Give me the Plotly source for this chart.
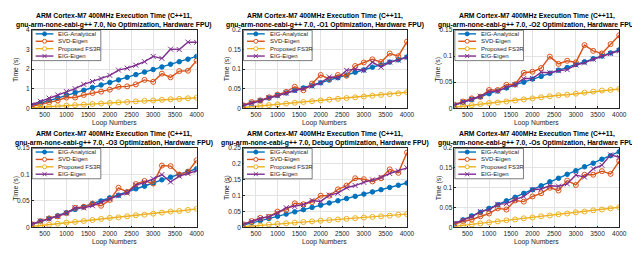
import plotly.graph_objects as go

W, H = 640, 254

loops = [200, 400, 600, 800, 1000, 1200, 1400, 1600, 1800, 2000,
         2200, 2400, 2600, 2800, 3000, 3200, 3400, 3600, 3800, 4000]
x_ticks = [500, 1000, 1500, 2000, 2500, 3000, 3500, 4000]
series_names = ["EIG-Analytical", "SVD-Eigen", "Proposed FS3R", "EIG-Eigen"]

# Panel 1: No Optimization
p1_eig_an = [0.13, 0.27, 0.40, 0.53, 0.66, 0.79, 0.92, 1.06, 1.19, 1.32,
             1.45, 1.58, 1.72, 1.85, 1.98, 2.11, 2.25, 2.38, 2.51, 2.65]
p1_svd = [0.10, 0.20, 0.30, 0.40, 0.55, 0.55, 0.68, 0.78, 0.85, 0.95,
          1.10, 1.12, 1.22, 1.45, 1.35, 1.77, 1.58, 1.90, 1.92, 2.43]
p1_fs3r = [0.03, 0.06, 0.08, 0.11, 0.14, 0.16, 0.19, 0.22, 0.24, 0.27,
           0.30, 0.32, 0.35, 0.38, 0.40, 0.43, 0.46, 0.48, 0.51, 0.54]
p1_eig_eigen = [0.18, 0.35, 0.52, 0.68, 0.85, 1.00, 1.22, 1.37, 1.52, 1.68,
                1.95, 2.05, 2.20, 2.38, 2.65, 2.55, 3.02, 3.00, 3.38, 3.37]

# Panel 2: -O1
p2_eig_an = [0.0065, 0.013, 0.020, 0.026, 0.033, 0.039, 0.046, 0.052, 0.058, 0.065,
             0.072, 0.078, 0.085, 0.092, 0.098, 0.105, 0.111, 0.118, 0.124, 0.131]
p2_svd = [0.008, 0.016, 0.020, 0.028, 0.035, 0.042, 0.055, 0.046, 0.063, 0.085,
          0.075, 0.085, 0.083, 0.108, 0.117, 0.125, 0.118, 0.140, 0.133, 0.170]
p2_fs3r = [0.002, 0.004, 0.006, 0.008, 0.010, 0.012, 0.014, 0.016, 0.018, 0.020,
           0.022, 0.024, 0.026, 0.028, 0.030, 0.032, 0.034, 0.036, 0.038, 0.041]
p2_eig_eigen = [0.007, 0.013, 0.019, 0.027, 0.032, 0.039, 0.045, 0.050, 0.057, 0.065,
                0.080, 0.078, 0.097, 0.100, 0.097, 0.118, 0.105, 0.118, 0.123, 0.130]

# Panel 3: -O2
p3_eig_an = [0.006, 0.011, 0.017, 0.022, 0.028, 0.033, 0.039, 0.045, 0.050, 0.056,
             0.061, 0.067, 0.073, 0.078, 0.084, 0.089, 0.095, 0.100, 0.106, 0.112]
p3_svd = [0.007, 0.013, 0.019, 0.022, 0.035, 0.035, 0.045, 0.046, 0.068, 0.070,
          0.077, 0.099, 0.085, 0.091, 0.088, 0.121, 0.110, 0.105, 0.123, 0.140]
p3_fs3r = [0.002, 0.004, 0.006, 0.008, 0.010, 0.011, 0.013, 0.015, 0.017, 0.019,
           0.021, 0.023, 0.025, 0.026, 0.028, 0.030, 0.032, 0.034, 0.035, 0.037]
p3_eig_eigen = [0.006, 0.012, 0.017, 0.023, 0.032, 0.033, 0.040, 0.045, 0.057, 0.057,
                0.069, 0.068, 0.072, 0.074, 0.083, 0.087, 0.094, 0.100, 0.105, 0.110]

# Panel 4: -O3
p4_eig_an = [0.0055, 0.011, 0.017, 0.022, 0.028, 0.034, 0.039, 0.045, 0.050, 0.056,
             0.061, 0.067, 0.073, 0.078, 0.084, 0.090, 0.095, 0.100, 0.106, 0.111]
p4_svd = [0.006, 0.012, 0.017, 0.021, 0.027, 0.037, 0.039, 0.045, 0.041, 0.052,
          0.075, 0.067, 0.082, 0.088, 0.083, 0.117, 0.116, 0.100, 0.105, 0.127]
p4_fs3r = [0.0017, 0.0035, 0.005, 0.007, 0.009, 0.0105, 0.012, 0.014, 0.016, 0.018,
           0.019, 0.021, 0.023, 0.024, 0.026, 0.028, 0.030, 0.031, 0.033, 0.035]
p4_eig_eigen = [0.006, 0.012, 0.016, 0.021, 0.027, 0.037, 0.037, 0.041, 0.048, 0.054,
                0.060, 0.065, 0.080, 0.085, 0.092, 0.100, 0.086, 0.097, 0.102, 0.107]

# Panel 5: Debug
p5_eig_an = [0.007, 0.014, 0.021, 0.028, 0.035, 0.042, 0.049, 0.056, 0.063, 0.070,
             0.077, 0.084, 0.091, 0.098, 0.105, 0.112, 0.119, 0.126, 0.133, 0.140]
p5_svd = [0.010, 0.020, 0.030, 0.033, 0.050, 0.055, 0.076, 0.073, 0.080, 0.100,
          0.100, 0.120, 0.132, 0.155, 0.152, 0.145, 0.155, 0.183, 0.172, 0.236]
p5_fs3r = [0.002, 0.004, 0.006, 0.009, 0.011, 0.013, 0.015, 0.017, 0.019, 0.021,
           0.023, 0.025, 0.027, 0.029, 0.031, 0.033, 0.035, 0.037, 0.040, 0.042]
p5_eig_eigen = [0.009, 0.019, 0.028, 0.034, 0.045, 0.062, 0.066, 0.072, 0.085, 0.082,
                0.102, 0.108, 0.125, 0.132, 0.142, 0.150, 0.158, 0.170, 0.178, 0.188]

# Panel 6: -Os
p6_eig_an = [0.0095, 0.019, 0.029, 0.038, 0.048, 0.057, 0.067, 0.076, 0.086, 0.095,
             0.105, 0.115, 0.124, 0.134, 0.143, 0.153, 0.162, 0.172, 0.181, 0.191]
p6_svd = [0.008, 0.015, 0.020, 0.028, 0.035, 0.048, 0.045, 0.068, 0.065, 0.078,
          0.086, 0.100, 0.093, 0.118, 0.107, 0.133, 0.133, 0.142, 0.135, 0.167]
p6_fs3r = [0.0025, 0.005, 0.0075, 0.010, 0.0125, 0.015, 0.018, 0.020, 0.023, 0.025,
           0.028, 0.030, 0.033, 0.035, 0.038, 0.040, 0.043, 0.045, 0.048, 0.051]
p6_eig_eigen = [0.010, 0.018, 0.027, 0.040, 0.045, 0.058, 0.060, 0.070, 0.078, 0.095,
                0.097, 0.105, 0.104, 0.110, 0.132, 0.127, 0.148, 0.157, 0.183, 0.177]

opt_labels = ["No Optimization", "-O1 Optimization", "-O2 Optimization",
              "-O3 Optimization", "Debug Optimization", "-Os Optimization"]
y_ranges = [[0, 4], [0, 0.2], [0, 0.15], [0, 0.15], [0, 0.25], [0, 0.2]]
y_tickvals = [[0, 1, 2, 3, 4],
              [0, 0.05, 0.1, 0.15, 0.2],
              [0, 0.05, 0.1, 0.15],
              [0, 0.05, 0.1, 0.15],
              [0, 0.05, 0.1, 0.15, 0.2, 0.25],
              [0, 0.05, 0.1, 0.15, 0.2]]

panels = [
    [p1_eig_an, p1_svd, p1_fs3r, p1_eig_eigen],
    [p2_eig_an, p2_svd, p2_fs3r, p2_eig_eigen],
    [p3_eig_an, p3_svd, p3_fs3r, p3_eig_eigen],
    [p4_eig_an, p4_svd, p4_fs3r, p4_eig_eigen],
    [p5_eig_an, p5_svd, p5_fs3r, p5_eig_eigen],
    [p6_eig_an, p6_svd, p6_fs3r, p6_eig_eigen],
]

colors = ["#0072BD", "#D95319", "#EDB120", "#7E2F8E"]
symbols = ["circle", "circle-open", "circle-open", "x-thin-open"]

# pixel layout of plot areas
cols = [(24, 191), (238, 404), (452, 619)]
rows = [(18.5, 99), (140, 221.5)]


def px(x):
    return x / W


def py(y):
    return 1 - y / H


FONT = "Liberation Sans, Arial, sans-serif"
AXC = "#262626"

fig = go.Figure()
layout = dict(width=W, height=H, margin=dict(l=0, r=0, t=0, b=0),
              paper_bgcolor="white", plot_bgcolor="white", showlegend=False,
              font=dict(family=FONT, color=AXC))
annotations = []
shapes = []

for i in range(6):
    r, c = divmod(i, 3)
    L, R = cols[c]
    T, B = rows[r]
    n = "" if i == 0 else str(i + 1)
    xa, ya = "x" + n, "y" + n
    for k in range(4):
        mk = dict(symbol=symbols[k], size=4.5 if k == 0 else 5, color=colors[k],
                  line=dict(width=1, color=colors[k]))
        fig.add_trace(go.Scatter(x=loops, y=panels[i][k], mode="lines+markers",
                                 name=series_names[k], xaxis=xa, yaxis=ya,
                                 line=dict(color=colors[k], width=1.4),
                                 marker=mk, showlegend=False))
    layout["xaxis" + n] = dict(domain=[px(L), px(R)], anchor=ya, range=[200, 4000],
                               tickvals=x_ticks, ticks="inside", ticklen=2,
                               tickcolor=AXC, showline=True, mirror=True,
                               linecolor=AXC, linewidth=0.6, showgrid=True,
                               gridcolor="#e3e3e3", gridwidth=0.6, zeroline=False,
                               tickfont=dict(size=6.5, color=AXC, family=FONT))
    layout["yaxis" + n] = dict(domain=[py(B), py(T)], anchor=xa, range=y_ranges[i],
                               tickvals=y_tickvals[i],
                               ticktext=[("%g" % v) for v in y_tickvals[i]],
                               ticks="inside", ticklen=2, tickcolor=AXC,
                               showline=True, mirror=True, linecolor=AXC,
                               linewidth=0.6, showgrid=True, gridcolor="#e3e3e3",
                               gridwidth=0.6, zeroline=False,
                               tickfont=dict(size=6.5, color=AXC, family=FONT))
    cx = (L + R) / 2
    t1 = 4.5 if r == 0 else 125.8
    annotations.append(dict(xref="paper", yref="paper", x=px(cx), y=py(t1),
                            xanchor="center", yanchor="middle", showarrow=False,
                            text="<b>ARM Cortex-M7 400MHz Execution Time (C++11,</b>",
                            font=dict(size=6.8, color="black", family=FONT)))
    annotations.append(dict(xref="paper", yref="paper", x=px(cx), y=py(t1 + 8.6),
                            xanchor="center", yanchor="middle", showarrow=False,
                            text="<b>gnu-arm-none-eabi-g++ 7.0, " + opt_labels[i]
                                 + ", Hardware FPU)</b>",
                            font=dict(size=6.8, color="black", family=FONT)))
    annotations.append(dict(xref="paper", yref="paper", x=px(cx), y=py(B + 15),
                            xanchor="center", yanchor="middle", showarrow=False,
                            text="Loop Numbers",
                            font=dict(size=6.8, color=AXC, family=FONT)))
    annotations.append(dict(xref="paper", yref="paper", x=px(L - 16), y=py((T + B) / 2),
                            xanchor="center", yanchor="middle", showarrow=False,
                            textangle=-90, text="Time (s)",
                            font=dict(size=6.8, color=AXC, family=FONT)))
    # legend box
    shapes.append(dict(type="rect", xref="paper", yref="paper",
                       x0=px(L + 0.5), x1=px(L + 70), y0=py(T + 31.5), y1=py(T + 0.3),
                       fillcolor="white", line=dict(color=AXC, width=0.6), layer="above"))
    for k in range(4):
        yy = T + 4 + 7.6 * k
        shapes.append(dict(type="line", xref="paper", yref="paper",
                           x0=px(L + 4), x1=px(L + 22), y0=py(yy), y1=py(yy),
                           line=dict(color=colors[k], width=1.4), layer="above"))
        mx = px(L + 13)
        my = py(yy)
        if k == 3:
            for s in (1, -1):
                shapes.append(dict(type="line", xref="paper", yref="paper",
                                   xsizemode="pixel", ysizemode="pixel",
                                   xanchor=mx, yanchor=my,
                                   x0=-2, x1=2, y0=-2 * s, y1=2 * s,
                                   line=dict(color=colors[k], width=1), layer="above"))
        else:
            shapes.append(dict(type="circle", xref="paper", yref="paper",
                               xsizemode="pixel", ysizemode="pixel",
                               xanchor=mx, yanchor=my, x0=-2, x1=2, y0=-2, y1=2,
                               fillcolor=colors[k] if k == 0 else "white",
                               line=dict(color=colors[k], width=1), layer="above"))
        annotations.append(dict(xref="paper", yref="paper", x=px(L + 25), y=py(yy),
                                xanchor="left", yanchor="middle", showarrow=False,
                                text=series_names[k],
                                font=dict(size=6, color=AXC, family=FONT)))

annotations.append(dict(xref="paper", yref="paper", x=px(133), y=py(244),
                        xanchor="left", yanchor="top", showarrow=False,
                        text="Fig. 2: Comparative time consumption on the ARM embedded hardware.",
                        font=dict(size=11, color="black",
                                  family="Liberation Serif, Times New Roman, serif")))

layout["annotations"] = annotations
layout["shapes"] = shapes
fig.update_layout(**layout)
fig.write_html("out.html")
